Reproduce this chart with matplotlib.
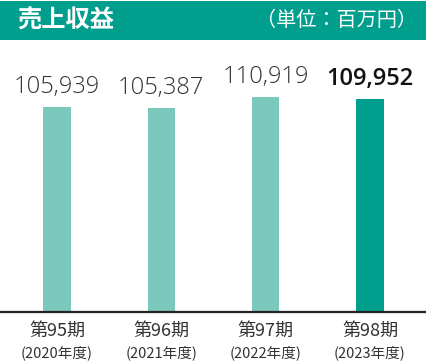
import matplotlib
matplotlib.use("Agg")
import matplotlib.pyplot as plt
from matplotlib.patches import Rectangle

periods = ["第95期", "第96期", "第97期", "第98期"]
years = ["(2020年度)", "(2021年度)", "(2022年度)", "(2023年度)"]
values = [105939, 105387, 110919, 109952]
value_labels = ["105,939", "105,387", "110,919", "109,952"]
title = "売上収益"
unit = "（単位：百万円）"

plt.rcParams['font.family'] = ['Noto Sans CJK JP', 'DejaVu Sans']

W, H = 426, 363
fig = plt.figure(figsize=(W/100, H/100), dpi=100)

teal = "#009E8C"
light = "#7BC8BD"

# header band
fig.patches.append(Rectangle((0, (H-40)/H), 1, 39/H, transform=fig.transFigure,
                             facecolor=teal, edgecolor='none', zorder=0))
fig.text(17/W, 1-20.5/H, title, color='white', fontsize=17.5, fontweight='bold',
         ha='left', va='center')
fig.text(417/W, 1-20.5/H, unit, color='white', fontsize=14.5, ha='right', va='center')

ax = fig.add_axes([0, (H-312)/H, 1, 267/H])
x = list(range(len(values)))
colors = [light, light, light, teal]
ax.bar(x, values, width=0.259, color=colors, zorder=2)
ax.set_xlim((0-57)/104.33, (426-57)/104.33)
ax.set_ylim(0, 267*515.9)
for s in ['top', 'right', 'left']:
    ax.spines[s].set_visible(False)
ax.spines['bottom'].set_linewidth(1.6)
ax.spines['bottom'].set_color('#222222')
ax.set_yticks([])
ax.set_xticks([])

for i, (v, lab) in enumerate(zip(values, value_labels)):
    last = i == len(values) - 1
    ax.annotate(lab, (i, v), xytext=(0, 8), textcoords='offset pixels',
                ha='center', va='bottom', fontsize=17,
                fontweight='semibold' if last else 'light',
                color='#111111' if last else '#333333',
                family=['Open Sans', 'DejaVu Sans'])

for i in range(len(values)):
    xp = ax.transData.transform((i, 0))[0] / W
    fig.text(xp, 1-331/H, periods[i], ha='center', va='center',
             fontsize=13, color='#333333')
    fig.text(xp, 1-353/H, years[i], ha='center', va='center',
             fontsize=10.5, color='#333333')

fig.savefig("out.png", dpi=100)
